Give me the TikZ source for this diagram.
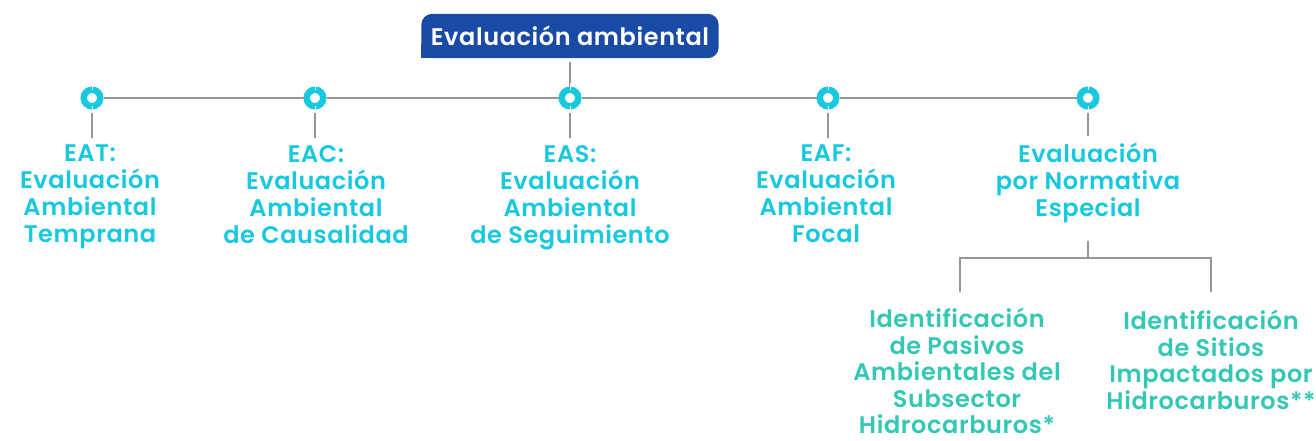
\documentclass[tikz,border=0pt]{standalone}
\usepackage{fontspec}
\setmainfont{Poppins}[BoldFont={Poppins SemiBold},BoldFeatures={LetterSpace=2.5}]
\usetikzlibrary{backgrounds}
\definecolor{cyanT}{RGB}{24,200,222}
\definecolor{tealT}{RGB}{52,200,180}
\definecolor{boxblue}{RGB}{24,74,166}
\definecolor{lineg}{RGB}{150,150,150}
\begin{document}
\begin{tikzpicture}[x=1pt,y=-1pt,
  ring/.style={circle,draw=cyanT,line width=6.5pt,minimum size=16.5pt,inner sep=0pt},
  lbl/.style={anchor=north,align=center,inner sep=0pt,text=cyanT,font=\fontsize{24}{27}\selectfont\bfseries},
  sub/.style={anchor=north,align=center,inner sep=0pt,text=tealT,font=\fontsize{24}{26.5}\selectfont\bfseries},
  conn/.style={draw=lineg,line width=1.5pt}]
\useasboundingbox (0,0) rectangle (1316,440);
\node[text=white,font=\fontsize{24}{27}\selectfont\bfseries,minimum width=297pt,minimum height=44pt,inner sep=0pt] (t) at (570,36) {Evaluación ambiental};
\begin{scope}[on background layer]
\fill[boxblue,rounded corners=11pt] (t.south west) rectangle (t.north east);
\fill[boxblue] (t.south west) rectangle ([xshift=14pt,yshift=14pt]t.south west);
\end{scope}
\foreach \i/\x in {1/92,2/315,3/570,4/828,5/1088}{
  \node[ring] (c\i) at (\x,98) {};
}
\draw[conn] (c1) -- (c2);
\draw[conn] (c2) -- (c3);
\draw[conn] (c3) -- (c4);
\draw[conn] (c4) -- (c5);
\draw[conn] ([yshift=-4pt]t.south) -- (c3);
\foreach \i in {1,...,5}{
  \draw[white,line width=0.9pt] ([yshift=-3.5pt]c\i.north) -- ([yshift=3.5pt]c\i.north);
  \draw[white,line width=0.9pt] ([yshift=-3.5pt]c\i.south) -- ([yshift=3.5pt]c\i.south);
}
\node[lbl] (l1) at (90,145) {EAT:\\Evaluación\\Ambiental\\Temprana};
\node[lbl] (l2) at (316,145) {EAC:\\Evaluación\\Ambiental\\de Causalidad};
\node[lbl] (l3) at (570,145) {EAS:\\Evaluación\\Ambiental\\de Seguimiento};
\node[lbl] (l4) at (826,145) {EAF:\\Evaluación\\Ambiental\\Focal};
\node[lbl] (l5) at (1088,143) {Evaluación\\por Normativa\\Especial};
\foreach \i in {1,...,5}{
  \draw[conn,shorten <=3pt,shorten >=7pt] (c\i.south) -- (c\i.south |- l\i.north);
}
\node[sub] (m1) at (957,308) {Identificación\\de Pasivos\\Ambientales del\\Subsector\\Hidrocarburos*};
\node[sub] (m2) at (1211,310) {Identificación\\de Sitios\\Impactados por\\Hidrocarburos**};
\coordinate (j) at (1088,258);
\draw[conn,shorten <=18pt] (l5.south) -- (j);
\draw[conn,shorten <=16pt,shorten >=18pt] ([xshift=3pt]m1.north) |- (j) -| (m2.north);
\end{tikzpicture}
\end{document}
